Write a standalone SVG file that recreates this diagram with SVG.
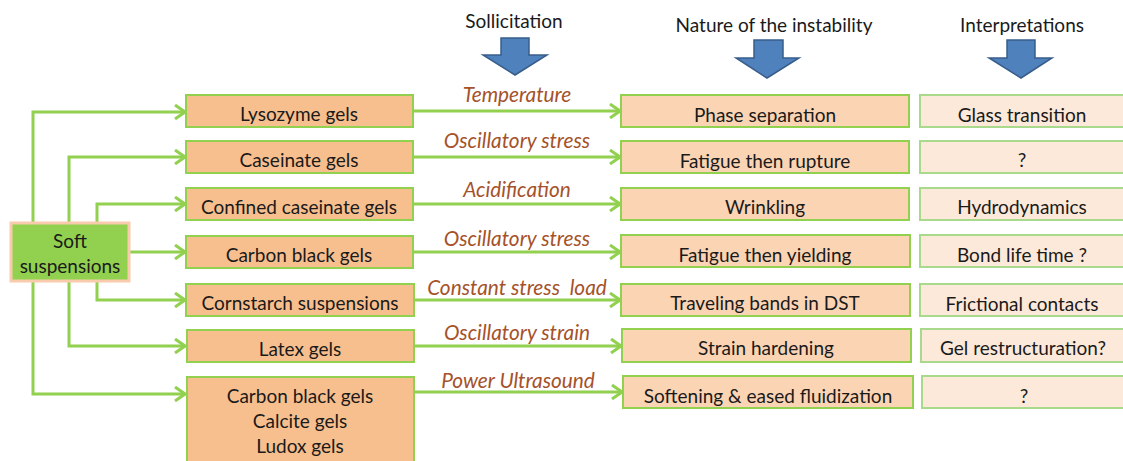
<svg xmlns="http://www.w3.org/2000/svg" width="1123" height="461" viewBox="0 0 1123 461">
<defs>
<style>
.t{font-family:Lato,"Liberation Sans",sans-serif;font-size:19px;fill:#1a1a1a;text-anchor:middle}
.lab{font-family:Lato,"Liberation Sans",sans-serif;font-size:20.8px;font-style:italic;fill:#A5522A;text-anchor:middle;white-space:pre}
.l{fill:#F8BF8E;stroke:#92D050;stroke-width:2}
.m{fill:#FBD4B4;stroke:#92D050;stroke-width:2}
.r{fill:#FDE9D9;stroke:#A9D98A;stroke-width:2}
.c{fill:none;stroke:#92D050;stroke-width:3;marker-end:url(#ah)}
.big{fill:#4F81BD;stroke:#385D8A;stroke-width:1.5}
</style>
<marker id="ah" viewBox="0 0 12 16" refX="11" refY="8" markerWidth="12" markerHeight="16" markerUnits="userSpaceOnUse" orient="auto">
<path d="M1,1 L11,8 L1,15" fill="none" stroke="#92D050" stroke-width="3"/>
</marker>
</defs>
<rect width="1123" height="461" fill="#ffffff"/>
<g id="headers">
<text class="t" x="514" y="28">Sollicitation</text>
<path class="big" d="M501,38 H529 V55 H547 L515,75 L483,55 H501 Z"/>
<text class="t" x="774" y="32">Nature of the instability</text>
<path class="big" d="M754,40 H783 V58 H799 L767,78 L736,58 H754 Z"/>
<text class="t" x="1022" y="32">Interpretations</text>
<path class="big" d="M1007,40 H1035 V58 H1052 L1021,78 L989,58 H1007 Z"/>
</g>
<g id="connectors">
<path class="c" d="M33,222 V112 H185"/>
<path class="c" d="M69,222 V157 H185"/>
<path class="c" d="M97,222 V204 H185"/>
<path class="c" d="M130,252 H185"/>
<path class="c" d="M97,282 V300 H185"/>
<path class="c" d="M69,282 V346 H185"/>
<path class="c" d="M33,282 V394 H185"/>
<path class="c" d="M414,111 H620"/>
<path class="c" d="M414,157 H620"/>
<path class="c" d="M414,204 H620"/>
<path class="c" d="M414,252 H620"/>
<path class="c" d="M414,300 H620"/>
<path class="c" d="M414,346 H621"/>
<path class="c" d="M414,392 H622"/>
<text class="lab" x="517" y="102">Temperature</text>
<text class="lab" x="517" y="148">Oscillatory stress</text>
<text class="lab" x="517" y="197">Acidification</text>
<text class="lab" x="517" y="246">Oscillatory stress</text>
<text class="lab" x="517" y="295" xml:space="preserve">Constant stress  load</text>
<text class="lab" x="517" y="340">Oscillatory strain</text>
<text class="lab" x="518" y="388">Power Ultrasound</text>
</g>
<g id="soft">
<rect x="11" y="223" width="118" height="58" fill="#92D050" stroke="#F8CBAD" stroke-width="3"/>
<text class="t" x="70" y="248">Soft</text>
<text class="t" x="70" y="273">suspensions</text>
</g>
<g id="lysozyme"><rect class="l" x="186" y="95" width="227" height="32"/><text class="t" x="299" y="121">Lysozyme gels</text></g>
<g id="caseinate"><rect class="l" x="186" y="141" width="227" height="32"/><text class="t" x="299" y="167">Caseinate gels</text></g>
<g id="confined"><rect class="l" x="186" y="188" width="227" height="32"/><text class="t" x="299" y="214">Confined caseinate gels</text></g>
<g id="carbon"><rect class="l" x="186" y="236" width="227" height="32"/><text class="t" x="299" y="262">Carbon black gels</text></g>
<g id="cornstarch"><rect class="l" x="186" y="284" width="228" height="32"/><text class="t" x="300" y="310">Cornstarch suspensions</text></g>
<g id="latex"><rect class="l" x="187" y="330" width="227" height="32"/><text class="t" x="300" y="356">Latex gels</text></g>
<g id="multi"><rect class="l" x="187" y="377" width="227" height="95"/><text class="t" x="300" y="403">Carbon black gels</text><text class="t" x="300" y="428">Calcite gels</text><text class="t" x="300" y="453">Ludox gels</text></g>
<g id="phase"><rect class="m" x="621" y="95" width="288" height="32"/><text class="t" x="765" y="122">Phase separation</text></g>
<g id="fatigue1"><rect class="m" x="621" y="141" width="288" height="32"/><text class="t" x="765" y="168">Fatigue then rupture</text></g>
<g id="wrinkling"><rect class="m" x="621" y="188" width="288" height="32"/><text class="t" x="765" y="214">Wrinkling</text></g>
<g id="fatigue2"><rect class="m" x="621" y="235" width="289" height="32"/><text class="t" x="765" y="262">Fatigue then yielding</text></g>
<g id="traveling"><rect class="m" x="621" y="284" width="289" height="32"/><text class="t" x="765" y="310">Traveling bands in DST</text></g>
<g id="strain"><rect class="m" x="622" y="329" width="289" height="33"/><text class="t" x="766" y="355">Strain hardening</text></g>
<g id="softening"><rect class="m" x="623" y="376" width="290" height="32"/><text class="t" x="768" y="403">Softening &amp; eased fluidization</text></g>
<g id="glass"><rect class="r" x="920" y="95" width="210" height="32"/><text class="t" x="1022" y="122">Glass transition</text></g>
<g id="q1"><rect class="r" x="920" y="141" width="210" height="32"/><text class="t" x="1022" y="167">?</text></g>
<g id="hydro"><rect class="r" x="920" y="188" width="210" height="32"/><text class="t" x="1022" y="214">Hydrodynamics</text></g>
<g id="bond"><rect class="r" x="920" y="235" width="210" height="32"/><text class="t" x="1022" y="262">Bond life time ?</text></g>
<g id="frictional"><rect class="r" x="920" y="284" width="210" height="32"/><text class="t" x="1022" y="311">Frictional contacts</text></g>
<g id="gel"><rect class="r" x="921" y="329" width="210" height="33"/><text class="t" x="1023" y="355">Gel restructuration?</text></g>
<g id="q2"><rect class="r" x="922" y="376" width="210" height="32"/><text class="t" x="1024" y="403">?</text></g>
</svg>
